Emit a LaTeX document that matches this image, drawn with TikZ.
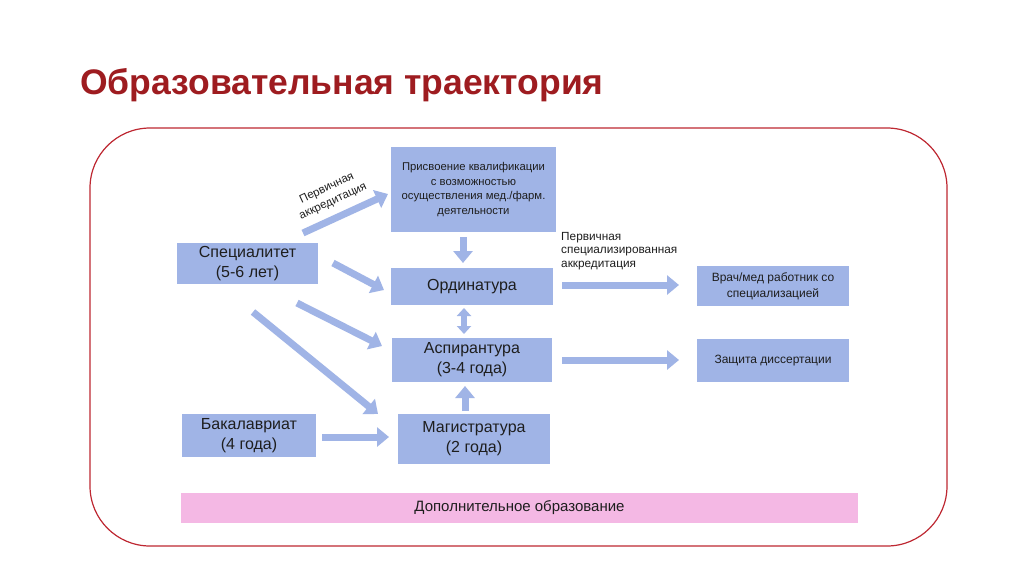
\documentclass[tikz,border=0pt]{standalone}
\usepackage{fontspec}
\setmainfont{Liberation Sans}
\usetikzlibrary{arrows.meta}
\definecolor{boxblue}{RGB}{160,180,230}
\definecolor{pinkbox}{RGB}{244,184,228}
\definecolor{titlered}{RGB}{158,28,32}
\definecolor{framered}{RGB}{190,40,50}
\definecolor{txt}{RGB}{30,30,30}
\tikzset{
  bbox/.style={fill=boxblue, draw=none, align=center, inner sep=0pt, text=txt},
  fat/.style={draw=boxblue, line width=7pt, -{Triangle[length=12pt,width=19pt]}},
  fatboth/.style={draw=boxblue, line width=6pt, {Triangle[length=8pt,width=14pt]}-{Triangle[length=8pt,width=14pt]}},
  lbl/.style={align=left, inner sep=0pt, text=txt},
}
\begin{document}
\begin{tikzpicture}[x=1pt,y=-1pt]
\useasboundingbox (0,0) rectangle (1024,574);
\fill[white] (0,0) rectangle (1024,574);
\node[anchor=west, text=titlered, font=\bfseries\fontsize{35.5}{40}\selectfont, inner sep=0pt] (title) at (80,85) {Образовательная траектория};
\draw[framered, line width=1.2pt, rounded corners=60pt] (90,128) rectangle (947,546);

\node[bbox, minimum width=165pt, minimum height=85pt, font=\fontsize{11.3}{14.5}\selectfont] (prisv) at (473.5,189.5) {Присвоение квалификации\\с возможностью\\осуществления мед./фарм.\\деятельности};
\node[bbox, minimum width=141pt, minimum height=41pt, font=\fontsize{16}{20}\selectfont] (spec) at (247.5,263.5) {Специалитет\\(5-6 лет)};
\node[bbox, minimum width=162pt, minimum height=37pt, font=\fontsize{16}{20}\selectfont] (ord) at (472,286.5) {Ординатура};
\node[bbox, minimum width=160pt, minimum height=44pt, font=\fontsize{16}{20}\selectfont] (asp) at (472,360) {Аспирантура\\(3-4 года)};
\node[bbox, minimum width=134pt, minimum height=43pt, font=\fontsize{16}{20}\selectfont] (bak) at (249,435.5) {Бакалавриат\\(4 года)};
\node[bbox, minimum width=152pt, minimum height=50pt, font=\fontsize{16}{20}\selectfont] (mag) at (474,439) {Магистратура\\(2 года)};
\node[bbox, minimum width=152pt, minimum height=40pt, font=\fontsize{12}{16}\selectfont] (vrach) at (773,286) {Врач/мед работник со\\специализацией};
\node[bbox, minimum width=152pt, minimum height=43pt, font=\fontsize{12}{16}\selectfont] (zash) at (773,360.5) {Защита диссертации};
\node[fill=pinkbox, minimum width=677pt, minimum height=30pt, inner sep=0pt, text=txt, font=\fontsize{15}{18}\selectfont] (dop) at (519.5,508) {Дополнительное образование};

% arrow end points
\coordinate (a1s) at (303,233); \coordinate (a1e) at (388,194);
\coordinate (a2s) at (463,237); \coordinate (a2e) at (463,263);
\coordinate (a3s) at (333,263); \coordinate (a3e) at (384,290);
\coordinate (a4s) at (297,303); \coordinate (a4e) at (382,346);
\coordinate (a5s) at (253,312); \coordinate (a5e) at (378,414);
\coordinate (a6s) at (464,308); \coordinate (a6e) at (464,334);
\coordinate (a7s) at (465,411); \coordinate (a7e) at (465,386);
\coordinate (a8s) at (322,437); \coordinate (a8e) at (389,437);
\coordinate (a9s) at (562,285); \coordinate (a9e) at (679,285);
\coordinate (a10s) at (562,360); \coordinate (a10e) at (679,360);

\draw[fat] (a1s) -- (a1e);
\draw[fat] (a2s) -- (a2e);
\draw[fat] (a3s) -- (a3e);
\draw[fat] (a4s) -- (a4e);
\draw[fat] (a5s) -- (a5e);
\draw[fatboth] (a6s) -- (a6e);
\draw[fat] (a7s) -- (a7e);
\draw[fat] (a8s) -- (a8e);
\draw[fat] (a9s) -- (a9e);
\draw[fat] (a10s) -- (a10e);

\node[align=center, inner sep=0pt, text=txt, rotate=25, font=\fontsize{11.5}{14.5}\selectfont] (acc1) at (330,195) {Первичная\\аккредитация};
\node[lbl, anchor=north west, font=\fontsize{11.8}{13.5}\selectfont] (acc2) at (561,232) {Первичная\\специализированная\\аккредитация};
\end{tikzpicture}
\end{document}
